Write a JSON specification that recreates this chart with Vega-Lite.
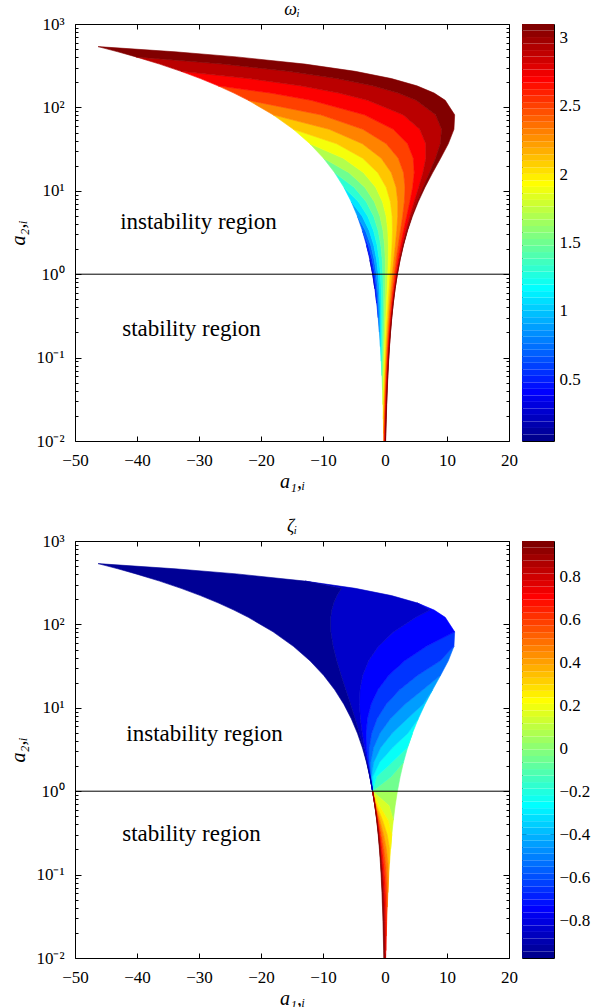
{
"$schema":"https://vega.github.io/schema/vega-lite/v6.json",
"background":"white",
"padding":{"left":8,"top":0,"right":0,"bottom":0},
"config":{
 "view":{"stroke":"black","strokeWidth":1},
 "font":"Liberation Serif",
 "axis":{"domain":false,"grid":false,"labelFont":"Liberation Serif","labelFontSize":17,"labelColor":"black","tickColor":"black","tickWidth":1,"titleFont":"Liberation Serif","titleFontSize":20,"titleFontWeight":"normal","titleFontStyle":"italic","titleColor":"black","labelFlush":false,"labelOverlap":false,"labelBound":false},
 "title":{"font":"Liberation Serif","fontSize":18,"fontStyle":"italic","fontWeight":"normal","color":"black","offset":-4}
},
"datasets":{
"W":[
{"v":0.1,"a2":0.67032,"lo":-1.637,"hi":-1.637},{"v":0.1,"a2":1,"lo":-2,"hi":-1.960},{"v":0.1,"a2":1.49182,"lo":-2.443,"hi":-2.443},
{"v":0.3,"a2":0.449329,"lo":-1.341,"hi":-1.341},{"v":0.3,"a2":0.67032,"lo":-1.637,"hi":-1.540},{"v":0.3,"a2":1,"lo":-1.960,"hi":-1.842},{"v":0.3,"a2":1.49182,"lo":-2.443,"hi":-2.298},{"v":0.3,"a2":2.22554,"lo":-2.984,"hi":-2.984},
{"v":0.5,"a2":0.301194,"lo":-1.098,"hi":-1.098},{"v":0.5,"a2":0.449329,"lo":-1.341,"hi":-1.209},{"v":0.5,"a2":0.67032,"lo":-1.540,"hi":-1.382},{"v":0.5,"a2":1,"lo":-1.842,"hi":-1.651},{"v":0.5,"a2":1.49182,"lo":-2.298,"hi":-2.062},{"v":0.5,"a2":2.22554,"lo":-2.984,"hi":-2.690},{"v":0.5,"a2":3.32012,"lo":-3.644,"hi":-3.644},
{"v":0.7,"a2":0.201897,"lo":-0.899,"hi":-0.899},{"v":0.7,"a2":0.301194,"lo":-1.098,"hi":-0.948},{"v":0.7,"a2":0.449329,"lo":-1.209,"hi":-1.032},{"v":0.7,"a2":0.67032,"lo":-1.382,"hi":-1.170},{"v":0.7,"a2":1,"lo":-1.651,"hi":-1.393},{"v":0.7,"a2":1.49182,"lo":-2.062,"hi":-1.746},{"v":0.7,"a2":2.22554,"lo":-2.690,"hi":-2.296},{"v":0.7,"a2":3.32012,"lo":-3.644,"hi":-3.146},{"v":0.7,"a2":4.95303,"lo":-4.451,"hi":-4.451},
{"v":0.9,"a2":0.135335,"lo":-0.736,"hi":-0.736},{"v":0.9,"a2":0.201897,"lo":-0.899,"hi":-0.742},{"v":0.9,"a2":0.301194,"lo":-0.948,"hi":-0.765},{"v":0.9,"a2":0.449329,"lo":-1.032,"hi":-0.816},{"v":0.9,"a2":0.67032,"lo":-1.170,"hi":-0.912},{"v":0.9,"a2":1,"lo":-1.393,"hi":-1.081},{"v":0.9,"a2":1.49182,"lo":-1.746,"hi":-1.361},{"v":0.9,"a2":2.22554,"lo":-2.296,"hi":-1.816},{"v":0.9,"a2":3.32012,"lo":-3.146,"hi":-2.539},{"v":0.9,"a2":4.95303,"lo":-4.451,"hi":-3.674},{"v":0.9,"a2":7.38906,"lo":-5.437,"hi":-5.437},
{"v":1.1,"a2":0.090718,"lo":-0.602,"hi":-0.602},{"v":1.1,"a2":0.135335,"lo":-0.736,"hi":-0.580},{"v":1.1,"a2":0.201897,"lo":-0.742,"hi":-0.563},{"v":1.1,"a2":0.301194,"lo":-0.765,"hi":-0.556},{"v":1.1,"a2":0.449329,"lo":-0.816,"hi":-0.570},{"v":1.1,"a2":0.67032,"lo":-0.912,"hi":-0.619},{"v":1.1,"a2":1,"lo":-1.081,"hi":-0.725},{"v":1.1,"a2":1.49182,"lo":-1.361,"hi":-0.923},{"v":1.1,"a2":2.22554,"lo":-1.816,"hi":-1.269},{"v":1.1,"a2":3.32012,"lo":-2.539,"hi":-1.847},{"v":1.1,"a2":4.95303,"lo":-3.674,"hi":-2.786},{"v":1.1,"a2":7.38906,"lo":-5.437,"hi":-4.284},{"v":1.1,"a2":11.0232,"lo":-6.640,"hi":-6.640},
{"v":1.3,"a2":0.06081,"lo":-0.493,"hi":-0.493},{"v":1.3,"a2":0.090718,"lo":-0.602,"hi":-0.452},{"v":1.3,"a2":0.135335,"lo":-0.580,"hi":-0.410},{"v":1.3,"a2":0.201897,"lo":-0.563,"hi":-0.368},{"v":1.3,"a2":0.301194,"lo":-0.556,"hi":-0.331},{"v":1.3,"a2":0.449329,"lo":-0.570,"hi":-0.305},{"v":1.3,"a2":0.67032,"lo":-0.619,"hi":-0.301},{"v":1.3,"a2":1,"lo":-0.725,"hi":-0.340},{"v":1.3,"a2":1.49182,"lo":-0.923,"hi":-0.450},{"v":1.3,"a2":2.22554,"lo":-1.269,"hi":-0.678},{"v":1.3,"a2":3.32012,"lo":-1.847,"hi":-1.097},{"v":1.3,"a2":4.95303,"lo":-2.786,"hi":-1.823},{"v":1.3,"a2":7.38906,"lo":-4.284,"hi":-3.029},{"v":1.3,"a2":11.0232,"lo":-6.640,"hi":-4.987},{"v":1.3,"a2":16.4446,"lo":-8.110,"hi":-8.110},
{"v":1.5,"a2":0.040762,"lo":-0.404,"hi":-0.404},{"v":1.5,"a2":0.06081,"lo":-0.493,"hi":-0.352},{"v":1.5,"a2":0.090718,"lo":-0.452,"hi":-0.295},{"v":1.5,"a2":0.135335,"lo":-0.410,"hi":-0.233},{"v":1.5,"a2":0.201897,"lo":-0.368,"hi":-0.165},{"v":1.5,"a2":0.301194,"lo":-0.331,"hi":-0.096},{"v":1.5,"a2":0.449329,"lo":-0.305,"hi":-0.029},{"v":1.5,"a2":0.67032,"lo":-0.301,"hi":0.027},{"v":1.5,"a2":1,"lo":-0.340,"hi":0.058},{"v":1.5,"a2":1.49182,"lo":-0.450,"hi":0.041},{"v":1.5,"a2":2.22554,"lo":-0.678,"hi":-0.064},{"v":1.5,"a2":3.32012,"lo":-1.097,"hi":-0.319},{"v":1.5,"a2":4.95303,"lo":-1.823,"hi":-0.819},{"v":1.5,"a2":7.38906,"lo":-3.029,"hi":-1.719},{"v":1.5,"a2":11.0232,"lo":-4.987,"hi":-3.256},{"v":1.5,"a2":16.4446,"lo":-8.110,"hi":-5.797},{"v":1.5,"a2":24.5325,"lo":-9.906,"hi":-9.906},
{"v":1.7,"a2":0.027324,"lo":-0.331,"hi":-0.331},{"v":1.7,"a2":0.040762,"lo":-0.404,"hi":-0.274},{"v":1.7,"a2":0.06081,"lo":-0.352,"hi":-0.210},{"v":1.7,"a2":0.090718,"lo":-0.295,"hi":-0.137},{"v":1.7,"a2":0.135335,"lo":-0.233,"hi":-0.054},{"v":1.7,"a2":0.201897,"lo":-0.165,"hi":0.037},{"v":1.7,"a2":0.301194,"lo":-0.096,"hi":0.138},{"v":1.7,"a2":0.449329,"lo":-0.029,"hi":0.246},{"v":1.7,"a2":0.67032,"lo":0.027,"hi":0.354},{"v":1.7,"a2":1,"lo":0.058,"hi":0.454},{"v":1.7,"a2":1.49182,"lo":0.041,"hi":0.528},{"v":1.7,"a2":2.22554,"lo":-0.064,"hi":0.546},{"v":1.7,"a2":3.32012,"lo":-0.319,"hi":0.459},{"v":1.7,"a2":4.95303,"lo":-0.819,"hi":0.185},{"v":1.7,"a2":7.38906,"lo":-1.719,"hi":-0.403},{"v":1.7,"a2":11.0232,"lo":-3.256,"hi":-1.508},{"v":1.7,"a2":16.4446,"lo":-5.797,"hi":-3.450},{"v":1.7,"a2":24.5325,"lo":-9.906,"hi":-6.725},{"v":1.7,"a2":36.5982,"lo":-12.099,"hi":-12.099},
{"v":1.9,"a2":0.018316,"lo":-0.271,"hi":-0.271},{"v":1.9,"a2":0.027324,"lo":-0.331,"hi":-0.213},{"v":1.9,"a2":0.040762,"lo":-0.274,"hi":-0.146},{"v":1.9,"a2":0.06081,"lo":-0.210,"hi":-0.070},{"v":1.9,"a2":0.090718,"lo":-0.137,"hi":0.018},{"v":1.9,"a2":0.135335,"lo":-0.054,"hi":0.118},{"v":1.9,"a2":0.201897,"lo":0.037,"hi":0.233},{"v":1.9,"a2":0.301194,"lo":0.138,"hi":0.363},{"v":1.9,"a2":0.449329,"lo":0.246,"hi":0.508},{"v":1.9,"a2":0.67032,"lo":0.354,"hi":0.666},{"v":1.9,"a2":1,"lo":0.454,"hi":0.832},{"v":1.9,"a2":1.49182,"lo":0.528,"hi":0.994},{"v":1.9,"a2":2.22554,"lo":0.546,"hi":1.131},{"v":1.9,"a2":3.32012,"lo":0.459,"hi":1.205},{"v":1.9,"a2":4.95303,"lo":0.185,"hi":1.154},{"v":1.9,"a2":7.38906,"lo":-0.403,"hi":0.873},{"v":1.9,"a2":11.0232,"lo":-1.508,"hi":0.194},{"v":1.9,"a2":16.4446,"lo":-3.450,"hi":-1.152},{"v":1.9,"a2":24.5325,"lo":-6.725,"hi":-3.590},{"v":1.9,"a2":36.5982,"lo":-12.099,"hi":-7.786},{"v":1.9,"a2":54.5982,"lo":-14.778,"hi":-14.778},
{"v":2.1,"a2":0.012277,"lo":-0.222,"hi":-0.222},{"v":2.1,"a2":0.018316,"lo":-0.271,"hi":-0.165},{"v":2.1,"a2":0.027324,"lo":-0.213,"hi":-0.100},{"v":2.1,"a2":0.040762,"lo":-0.146,"hi":-0.025},{"v":2.1,"a2":0.06081,"lo":-0.070,"hi":0.062},{"v":2.1,"a2":0.090718,"lo":0.018,"hi":0.162},{"v":2.1,"a2":0.135335,"lo":0.118,"hi":0.279},{"v":2.1,"a2":0.201897,"lo":0.233,"hi":0.414},{"v":2.1,"a2":0.301194,"lo":0.363,"hi":0.570},{"v":2.1,"a2":0.449329,"lo":0.508,"hi":0.749},{"v":2.1,"a2":0.67032,"lo":0.666,"hi":0.952},{"v":2.1,"a2":1,"lo":0.832,"hi":1.177},{"v":2.1,"a2":1.49182,"lo":0.994,"hi":1.420},{"v":2.1,"a2":2.22554,"lo":1.131,"hi":1.666},{"v":2.1,"a2":3.32012,"lo":1.205,"hi":1.892},{"v":2.1,"a2":4.95303,"lo":1.154,"hi":2.050},{"v":2.1,"a2":7.38906,"lo":0.873,"hi":2.061},{"v":2.1,"a2":11.0232,"lo":0.194,"hi":1.791},{"v":2.1,"a2":16.4446,"lo":-1.152,"hi":1.021},{"v":2.1,"a2":24.5325,"lo":-3.590,"hi":-0.602},{"v":2.1,"a2":36.5982,"lo":-7.786,"hi":-3.644},{"v":2.1,"a2":54.5982,"lo":-14.778,"hi":-8.994},{"v":2.1,"a2":81.4509,"lo":-18.050,"hi":-18.050},
{"v":2.3,"a2":0.00823,"lo":-0.181,"hi":-0.181},{"v":2.3,"a2":0.012277,"lo":-0.222,"hi":-0.127},{"v":2.3,"a2":0.018316,"lo":-0.165,"hi":-0.065},{"v":2.3,"a2":0.027324,"lo":-0.100,"hi":0.006},{"v":2.3,"a2":0.040762,"lo":-0.025,"hi":0.087},{"v":2.3,"a2":0.06081,"lo":0.062,"hi":0.182},{"v":2.3,"a2":0.090718,"lo":0.162,"hi":0.293},{"v":2.3,"a2":0.135335,"lo":0.279,"hi":0.422},{"v":2.3,"a2":0.201897,"lo":0.414,"hi":0.573},{"v":2.3,"a2":0.301194,"lo":0.570,"hi":0.751},{"v":2.3,"a2":0.449329,"lo":0.749,"hi":0.958},{"v":2.3,"a2":0.67032,"lo":0.952,"hi":1.198},{"v":2.3,"a2":1,"lo":1.177,"hi":1.475},{"v":2.3,"a2":1.49182,"lo":1.420,"hi":1.787},{"v":2.3,"a2":2.22554,"lo":1.666,"hi":2.131},{"v":2.3,"a2":3.32012,"lo":1.892,"hi":2.492},{"v":2.3,"a2":4.95303,"lo":2.050,"hi":2.840},{"v":2.3,"a2":7.38906,"lo":2.061,"hi":3.119},{"v":2.3,"a2":11.0232,"lo":1.791,"hi":3.228},{"v":2.3,"a2":16.4446,"lo":1.021,"hi":2.998},{"v":2.3,"a2":24.5325,"lo":-0.602,"hi":2.143},{"v":2.3,"a2":36.5982,"lo":-3.644,"hi":0.202},{"v":2.3,"a2":54.5982,"lo":-8.994,"hi":-3.572},{"v":2.3,"a2":81.4509,"lo":-18.050,"hi":-10.364},{"v":2.3,"a2":121.51,"lo":-22.046,"hi":-22.046},
{"v":2.5,"a2":0.00823,"lo":-0.181,"hi":-0.098},{"v":2.5,"a2":0.012277,"lo":-0.127,"hi":-0.041},{"v":2.5,"a2":0.018316,"lo":-0.065,"hi":0.024},{"v":2.5,"a2":0.027324,"lo":0.006,"hi":0.099},{"v":2.5,"a2":0.040762,"lo":0.087,"hi":0.186},{"v":2.5,"a2":0.06081,"lo":0.182,"hi":0.287},{"v":2.5,"a2":0.090718,"lo":0.293,"hi":0.404},{"v":2.5,"a2":0.135335,"lo":0.422,"hi":0.543},{"v":2.5,"a2":0.201897,"lo":0.573,"hi":0.706},{"v":2.5,"a2":0.301194,"lo":0.751,"hi":0.899},{"v":2.5,"a2":0.449329,"lo":0.958,"hi":1.127},{"v":2.5,"a2":0.67032,"lo":1.198,"hi":1.397},{"v":2.5,"a2":1,"lo":1.475,"hi":1.714},{"v":2.5,"a2":1.49182,"lo":1.787,"hi":2.083},{"v":2.5,"a2":2.22554,"lo":2.131,"hi":2.508},{"v":2.5,"a2":3.32012,"lo":2.492,"hi":2.983},{"v":2.5,"a2":4.95303,"lo":2.840,"hi":3.495},{"v":2.5,"a2":7.38906,"lo":3.119,"hi":4.009},{"v":2.5,"a2":11.0232,"lo":3.228,"hi":4.456},{"v":2.5,"a2":16.4446,"lo":2.998,"hi":4.713},{"v":2.5,"a2":24.5325,"lo":2.143,"hi":4.562},{"v":2.5,"a2":36.5982,"lo":0.202,"hi":3.638},{"v":2.5,"a2":54.5982,"lo":-3.572,"hi":1.336},{"v":2.5,"a2":81.4509,"lo":-10.364,"hi":-3.323},{"v":2.5,"a2":121.51,"lo":-22.046,"hi":-11.912},{"v":2.5,"a2":148.413,"lo":-24.365,"hi":-18.411},{"v":2.5,"a2":181.272,"lo":-26.927,"hi":-26.927},
{"v":2.7,"a2":0.00823,"lo":-0.098,"hi":-0.023},{"v":2.7,"a2":0.012277,"lo":-0.041,"hi":0.036},{"v":2.7,"a2":0.018316,"lo":0.024,"hi":0.103},{"v":2.7,"a2":0.027324,"lo":0.099,"hi":0.180},{"v":2.7,"a2":0.040762,"lo":0.186,"hi":0.268},{"v":2.7,"a2":0.06081,"lo":0.287,"hi":0.372},{"v":2.7,"a2":0.090718,"lo":0.404,"hi":0.493},{"v":2.7,"a2":0.135335,"lo":0.543,"hi":0.636},{"v":2.7,"a2":0.201897,"lo":0.706,"hi":0.806},{"v":2.7,"a2":0.301194,"lo":0.899,"hi":1.008},{"v":2.7,"a2":0.449329,"lo":1.127,"hi":1.250},{"v":2.7,"a2":0.67032,"lo":1.397,"hi":1.539},{"v":2.7,"a2":1,"lo":1.714,"hi":1.884},{"v":2.7,"a2":1.49182,"lo":2.083,"hi":2.296},{"v":2.7,"a2":2.22554,"lo":2.508,"hi":2.781},{"v":2.7,"a2":3.32012,"lo":2.983,"hi":3.347},{"v":2.7,"a2":4.95303,"lo":3.495,"hi":3.992},{"v":2.7,"a2":7.38906,"lo":4.009,"hi":4.701},{"v":2.7,"a2":11.0232,"lo":4.456,"hi":5.436},{"v":2.7,"a2":16.4446,"lo":4.713,"hi":6.115},{"v":2.7,"a2":24.5325,"lo":4.562,"hi":6.584},{"v":2.7,"a2":36.5982,"lo":3.638,"hi":6.570},{"v":2.7,"a2":54.5982,"lo":1.336,"hi":5.602},{"v":2.7,"a2":81.4509,"lo":-3.323,"hi":2.898},{"v":2.7,"a2":121.51,"lo":-11.912,"hi":-2.827},{"v":2.7,"a2":148.413,"lo":-18.411,"hi":-7.429},{"v":2.7,"a2":181.272,"lo":-26.927,"hi":-13.649},{"v":2.7,"a2":221.406,"lo":-29.759,"hi":-21.944},{"v":2.7,"a2":270.426,"lo":-32.889,"hi":-32.889},
{"v":2.9,"a2":0.00823,"lo":-0.023,"hi":0.041},{"v":2.9,"a2":0.012277,"lo":0.036,"hi":0.100},{"v":2.9,"a2":0.018316,"lo":0.103,"hi":0.167},{"v":2.9,"a2":0.027324,"lo":0.180,"hi":0.244},{"v":2.9,"a2":0.040762,"lo":0.268,"hi":0.332},{"v":2.9,"a2":0.06081,"lo":0.372,"hi":0.436},{"v":2.9,"a2":0.090718,"lo":0.493,"hi":0.557},{"v":2.9,"a2":0.135335,"lo":0.636,"hi":0.700},{"v":2.9,"a2":0.201897,"lo":0.806,"hi":0.871},{"v":2.9,"a2":0.301194,"lo":1.008,"hi":1.075},{"v":2.9,"a2":0.449329,"lo":1.250,"hi":1.322},{"v":2.9,"a2":0.67032,"lo":1.539,"hi":1.620},{"v":2.9,"a2":1,"lo":1.884,"hi":1.980},{"v":2.9,"a2":1.49182,"lo":2.296,"hi":2.416},{"v":2.9,"a2":2.22554,"lo":2.781,"hi":2.941},{"v":2.9,"a2":3.32012,"lo":3.347,"hi":3.570},{"v":2.9,"a2":4.95303,"lo":3.992,"hi":4.312},{"v":2.9,"a2":7.38906,"lo":4.701,"hi":5.172},{"v":2.9,"a2":11.0232,"lo":5.436,"hi":6.136},{"v":2.9,"a2":16.4446,"lo":6.115,"hi":7.163},{"v":2.9,"a2":24.5325,"lo":6.584,"hi":8.154},{"v":2.9,"a2":36.5982,"lo":6.570,"hi":8.922},{"v":2.9,"a2":54.5982,"lo":5.602,"hi":9.122},{"v":2.9,"a2":81.4509,"lo":2.898,"hi":8.156},{"v":2.9,"a2":121.51,"lo":-2.827,"hi":5.009},{"v":2.9,"a2":148.413,"lo":-7.429,"hi":2.130},{"v":2.9,"a2":181.272,"lo":-13.649,"hi":-1.994},{"v":2.9,"a2":221.406,"lo":-21.944,"hi":-7.740},{"v":2.9,"a2":270.426,"lo":-32.889,"hi":-15.588},{"v":2.9,"a2":330.3,"lo":-36.348,"hi":-26.142},{"v":2.9,"a2":403.429,"lo":-40.171,"hi":-40.171},
{"v":3.07,"a2":0.00823,"lo":0.041,"hi":0.080},{"v":3.07,"a2":0.012277,"lo":0.100,"hi":0.138},{"v":3.07,"a2":0.018316,"lo":0.167,"hi":0.204},{"v":3.07,"a2":0.027324,"lo":0.244,"hi":0.279},{"v":3.07,"a2":0.040762,"lo":0.332,"hi":0.366},{"v":3.07,"a2":0.06081,"lo":0.436,"hi":0.467},{"v":3.07,"a2":0.090718,"lo":0.557,"hi":0.585},{"v":3.07,"a2":0.135335,"lo":0.700,"hi":0.726},{"v":3.07,"a2":0.201897,"lo":0.871,"hi":0.894},{"v":3.07,"a2":0.301194,"lo":1.075,"hi":1.096},{"v":3.07,"a2":0.449329,"lo":1.322,"hi":1.340},{"v":3.07,"a2":0.67032,"lo":1.620,"hi":1.637},{"v":3.07,"a2":1,"lo":1.980,"hi":2.0},{"v":3.07,"a2":1.49182,"lo":2.416,"hi":2.443},{"v":3.07,"a2":2.22554,"lo":2.941,"hi":2.983},{"v":3.07,"a2":3.32012,"lo":3.570,"hi":3.638},{"v":3.07,"a2":4.95303,"lo":4.312,"hi":4.427},{"v":3.07,"a2":7.38906,"lo":5.172,"hi":5.364},{"v":3.07,"a2":11.0232,"lo":6.136,"hi":6.453},{"v":3.07,"a2":16.4446,"lo":7.163,"hi":7.675},{"v":3.07,"a2":24.5325,"lo":8.154,"hi":8.971},{"v":3.07,"a2":36.5982,"lo":8.922,"hi":10.207},{"v":3.07,"a2":54.5982,"lo":9.122,"hi":11.121},{"v":3.07,"a2":81.4509,"lo":8.156,"hi":11.235},{"v":3.07,"a2":121.51,"lo":5.009,"hi":9.717},{"v":3.07,"a2":148.413,"lo":2.130,"hi":7.935},{"v":3.07,"a2":181.272,"lo":-1.994,"hi":5.154},{"v":3.07,"a2":221.406,"lo":-7.740,"hi":1.051},{"v":3.07,"a2":270.426,"lo":-15.588,"hi":-4.790},{"v":3.07,"a2":330.3,"lo":-26.142,"hi":-12.895},{"v":3.07,"a2":403.429,"lo":-40.171,"hi":-23.934},{"v":3.07,"a2":464.05,"lo":-43.084,"hi":-33.854},{"v":3.07,"a2":535.49,"lo":-46.281,"hi":-46.281}
],
"Z":[
{"v":-0.05,"a2":1,"lo":-2,"hi":2},{"v":-0.05,"a2":1.49182,"lo":0.9942,"hi":2.443},{"v":-0.05,"a2":2.22554,"lo":2.9827,"hi":2.9827},
{"v":-0.15,"a2":1,"lo":-2,"hi":-2},{"v":-0.15,"a2":1.49182,"lo":-1.3611,"hi":0.9942},{"v":-0.15,"a2":2.22554,"lo":1.131,"hi":2.9827},{"v":-0.15,"a2":3.32012,"lo":3.57,"hi":3.6382},{"v":-0.15,"a2":4.95303,"lo":4.4272,"hi":4.4272},
{"v":-0.25,"a2":1,"lo":-2,"hi":-2},{"v":-0.25,"a2":1.49182,"lo":-1.9652,"hi":-1.3611},{"v":-0.25,"a2":2.22554,"lo":-0.8785,"hi":1.131},{"v":-0.25,"a2":3.32012,"lo":1.2053,"hi":3.57},{"v":-0.25,"a2":4.95303,"lo":3.6793,"hi":4.4272},{"v":-0.25,"a2":7.38906,"lo":5.3641,"hi":5.3641},
{"v":-0.35,"a2":1,"lo":-2,"hi":-2},{"v":-0.35,"a2":1.49182,"lo":-2.1908,"hi":-1.9652},{"v":-0.35,"a2":2.22554,"lo":-1.8158,"hi":-0.8785},{"v":-0.35,"a2":3.32012,"lo":-0.7098,"hi":1.2053},{"v":-0.35,"a2":4.95303,"lo":1.1539,"hi":3.6793},{"v":-0.35,"a2":7.38906,"lo":3.5868,"hi":5.3641},{"v":-0.35,"a2":11.0232,"lo":6.1364,"hi":6.4527},{"v":-0.35,"a2":16.4446,"lo":7.6749,"hi":7.6749},
{"v":-0.45,"a2":1,"lo":-2,"hi":-2},{"v":-0.45,"a2":1.49182,"lo":-2.2979,"hi":-2.1908},{"v":-0.45,"a2":2.22554,"lo":-2.2958,"hi":-1.8158},{"v":-0.45,"a2":3.32012,"lo":-1.8472,"hi":-0.7098},{"v":-0.45,"a2":4.95303,"lo":-0.8194,"hi":1.1539},{"v":-0.45,"a2":7.38906,"lo":0.8729,"hi":3.5868},{"v":-0.45,"a2":11.0232,"lo":3.2281,"hi":6.1364},{"v":-0.45,"a2":16.4446,"lo":6.1149,"hi":7.6749},{"v":-0.45,"a2":24.5325,"lo":8.9711,"hi":8.9711},
{"v":-0.55,"a2":1,"lo":-2,"hi":-2},{"v":-0.55,"a2":1.49182,"lo":-2.3564,"hi":-2.2979},{"v":-0.55,"a2":2.22554,"lo":-2.5693,"hi":-2.2958},{"v":-0.55,"a2":3.32012,"lo":-2.539,"hi":-1.8472},{"v":-0.55,"a2":4.95303,"lo":-2.1501,"hi":-0.8194},{"v":-0.55,"a2":7.38906,"lo":-1.2789,"hi":0.8729},{"v":-0.55,"a2":11.0232,"lo":0.1939,"hi":3.2281},{"v":-0.55,"a2":16.4446,"lo":2.3648,"hi":6.1149},{"v":-0.55,"a2":24.5325,"lo":5.2832,"hi":8.9711},{"v":-0.55,"a2":36.5982,"lo":8.922,"hi":10.2073},{"v":-0.55,"a2":54.5982,"lo":11.1213,"hi":11.1213},
{"v":-0.65,"a2":1,"lo":-2,"hi":-2},{"v":-0.65,"a2":1.49182,"lo":-2.3921,"hi":-2.3564},{"v":-0.65,"a2":2.22554,"lo":-2.7386,"hi":-2.5693},{"v":-0.65,"a2":3.32012,"lo":-2.9826,"hi":-2.539},{"v":-0.65,"a2":4.95303,"lo":-3.0509,"hi":-2.1501},{"v":-0.65,"a2":7.38906,"lo":-2.8444,"hi":-1.2789},{"v":-0.65,"a2":11.0232,"lo":-2.2554,"hi":0.1939},{"v":-0.65,"a2":16.4446,"lo":-1.1519,"hi":2.3648},{"v":-0.65,"a2":24.5325,"lo":0.6091,"hi":5.2832},{"v":-0.65,"a2":36.5982,"lo":3.1756,"hi":8.922},{"v":-0.65,"a2":54.5982,"lo":6.6877,"hi":11.1213},{"v":-0.65,"a2":81.4509,"lo":11.2354,"hi":11.2354},
{"v":-0.75,"a2":1,"lo":-2,"hi":-2},{"v":-0.75,"a2":1.49182,"lo":-2.4154,"hi":-2.3921},{"v":-0.75,"a2":2.22554,"lo":-2.8504,"hi":-2.7386},{"v":-0.75,"a2":3.32012,"lo":-3.2814,"hi":-2.9826},{"v":-0.75,"a2":4.95303,"lo":-3.6736,"hi":-3.0509},{"v":-0.75,"a2":7.38906,"lo":-3.9779,"hi":-2.8444},{"v":-0.75,"a2":11.0232,"lo":-4.1276,"hi":-2.2554},{"v":-0.75,"a2":16.4446,"lo":-4.0355,"hi":-1.1519},{"v":-0.75,"a2":24.5325,"lo":-3.5895,"hi":0.6091},{"v":-0.75,"a2":36.5982,"lo":-2.6498,"hi":3.1756},{"v":-0.75,"a2":54.5982,"lo":-1.0454,"hi":6.6877},{"v":-0.75,"a2":81.4509,"lo":1.4281,"hi":11.2354},{"v":-0.75,"a2":121.51,"lo":5.009,"hi":9.7167},{"v":-0.75,"a2":148.413,"lo":7.298,"hi":7.935},{"v":-0.75,"a2":181.272,"lo":5.1545,"hi":5.1545},
{"v":-0.85,"a2":1,"lo":-2,"hi":-2},{"v":-0.85,"a2":1.49182,"lo":-2.4313,"hi":-2.4154},{"v":-0.85,"a2":2.22554,"lo":-2.9278,"hi":-2.8504},{"v":-0.85,"a2":3.32012,"lo":-3.4915,"hi":-3.2814},{"v":-0.85,"a2":4.95303,"lo":-4.1211,"hi":-3.6736},{"v":-0.85,"a2":7.38906,"lo":-4.8113,"hi":-3.9779},{"v":-0.85,"a2":11.0232,"lo":-5.55,"hi":-4.1276},{"v":-0.85,"a2":16.4446,"lo":-6.3185,"hi":-4.0355},{"v":-0.85,"a2":24.5325,"lo":-7.0777,"hi":-3.5895},{"v":-0.85,"a2":36.5982,"lo":-7.7855,"hi":-2.6498},{"v":-0.85,"a2":54.5982,"lo":-8.3706,"hi":-1.0454},{"v":-0.85,"a2":81.4509,"lo":-8.7373,"hi":1.4281},{"v":-0.85,"a2":121.51,"lo":-8.756,"hi":5.009},{"v":-0.85,"a2":148.413,"lo":-8.583,"hi":7.298},{"v":-0.85,"a2":181.272,"lo":-8.2544,"hi":5.1545},{"v":-0.85,"a2":221.406,"lo":-7.74,"hi":1.051},{"v":-0.85,"a2":270.426,"lo":-7.007,"hi":-4.7898},{"v":-0.85,"a2":330.3,"lo":-12.895,"hi":-12.895},
{"v":-0.95,"a2":1,"lo":-2,"hi":-2},{"v":-0.95,"a2":1.49182,"lo":-2.4428,"hi":-2.4313},{"v":-0.95,"a2":2.22554,"lo":-2.9836,"hi":-2.9278},{"v":-0.95,"a2":3.32012,"lo":-3.6442,"hi":-3.4915},{"v":-0.95,"a2":4.95303,"lo":-4.4511,"hi":-4.1211},{"v":-0.95,"a2":7.38906,"lo":-5.4366,"hi":-4.8113},{"v":-0.95,"a2":11.0232,"lo":-6.6402,"hi":-5.55},{"v":-0.95,"a2":16.4446,"lo":-8.1104,"hi":-6.3185},{"v":-0.95,"a2":24.5325,"lo":-9.9061,"hi":-7.0777},{"v":-0.95,"a2":36.5982,"lo":-12.0993,"hi":-7.7855},{"v":-0.95,"a2":54.5982,"lo":-14.7781,"hi":-8.3706},{"v":-0.95,"a2":81.4509,"lo":-18.05,"hi":-8.7373},{"v":-0.95,"a2":121.51,"lo":-22.0464,"hi":-8.756},{"v":-0.95,"a2":148.413,"lo":-24.365,"hi":-8.583},{"v":-0.95,"a2":181.272,"lo":-26.9274,"hi":-8.2544},{"v":-0.95,"a2":221.406,"lo":-29.759,"hi":-7.74},{"v":-0.95,"a2":270.426,"lo":-32.8892,"hi":-7.007},{"v":-0.95,"a2":330.3,"lo":-36.348,"hi":-12.895},{"v":-0.95,"a2":403.429,"lo":-40.1711,"hi":-23.934},{"v":-0.95,"a2":464.05,"lo":-43.084,"hi":-33.854},{"v":-0.95,"a2":535.49,"lo":-46.281,"hi":-46.281},
{"v":0.05,"a2":1,"lo":-2,"hi":2},{"v":0.05,"a2":0.67032,"lo":0.6665,"hi":1.637},{"v":0.05,"a2":0.449329,"lo":1.34,"hi":1.34},
{"v":0.15,"a2":1,"lo":-2,"hi":-2},{"v":0.15,"a2":0.67032,"lo":-0.9124,"hi":0.6665},{"v":0.15,"a2":0.449329,"lo":0.5082,"hi":1.34},{"v":0.15,"a2":0.301194,"lo":1.0753,"hi":1.096},{"v":0.15,"a2":0.201897,"lo":0.894,"hi":0.894},
{"v":0.25,"a2":1,"lo":-2,"hi":-2},{"v":0.25,"a2":0.67032,"lo":-1.3173,"hi":-0.9124},{"v":0.25,"a2":0.449329,"lo":-0.3947,"hi":0.5082},{"v":0.25,"a2":0.301194,"lo":0.363,"hi":1.0753},{"v":0.25,"a2":0.201897,"lo":0.7428,"hi":0.894},{"v":0.25,"a2":0.135335,"lo":0.726,"hi":0.726},
{"v":0.35,"a2":1,"lo":-2,"hi":-2},{"v":0.35,"a2":0.67032,"lo":-1.4685,"hi":-1.3173},{"v":0.35,"a2":0.449329,"lo":-0.8159,"hi":-0.3947},{"v":0.35,"a2":0.301194,"lo":-0.2138,"hi":0.363},{"v":0.35,"a2":0.201897,"lo":0.233,"hi":0.7428},{"v":0.35,"a2":0.135335,"lo":0.4854,"hi":0.726},{"v":0.35,"a2":0.090718,"lo":0.5567,"hi":0.5854},{"v":0.35,"a2":0.06081,"lo":0.4667,"hi":0.4667},
{"v":0.45,"a2":1,"lo":-2,"hi":-2},{"v":0.45,"a2":0.67032,"lo":-1.5403,"hi":-1.4685},{"v":0.45,"a2":0.449329,"lo":-1.0316,"hi":-0.8159},{"v":0.45,"a2":0.301194,"lo":-0.5564,"hi":-0.2138},{"v":0.45,"a2":0.201897,"lo":-0.1654,"hi":0.233},{"v":0.45,"a2":0.135335,"lo":0.1181,"hi":0.4854},{"v":0.45,"a2":0.090718,"lo":0.2928,"hi":0.5567},{"v":0.45,"a2":0.06081,"lo":0.3718,"hi":0.4667},{"v":0.45,"a2":0.040762,"lo":0.3657,"hi":0.3657},
{"v":0.55,"a2":1,"lo":-2,"hi":-2},{"v":0.55,"a2":0.67032,"lo":-1.5796,"hi":-1.5403},{"v":0.55,"a2":0.449329,"lo":-1.1544,"hi":-1.0316},{"v":0.55,"a2":0.301194,"lo":-0.7647,"hi":-0.5564},{"v":0.55,"a2":0.201897,"lo":-0.4341,"hi":-0.1654},{"v":0.55,"a2":0.135335,"lo":-0.1731,"hi":0.1181},{"v":0.55,"a2":0.090718,"lo":0.0176,"hi":0.2928},{"v":0.55,"a2":0.06081,"lo":0.1438,"hi":0.3718},{"v":0.55,"a2":0.040762,"lo":0.2154,"hi":0.3657},{"v":0.55,"a2":0.027324,"lo":0.2438,"hi":0.2789},{"v":0.55,"a2":0.018316,"lo":0.2037,"hi":0.2037},
{"v":0.65,"a2":1,"lo":-2,"hi":-2},{"v":0.65,"a2":0.67032,"lo":-1.6035,"hi":-1.5796},{"v":0.65,"a2":0.449329,"lo":-1.2306,"hi":-1.1544},{"v":0.65,"a2":0.301194,"lo":-0.8983,"hi":-0.7647},{"v":0.65,"a2":0.201897,"lo":-0.616,"hi":-0.4341},{"v":0.65,"a2":0.135335,"lo":-0.3849,"hi":-0.1731},{"v":0.65,"a2":0.090718,"lo":-0.2046,"hi":0.0176},{"v":0.65,"a2":0.06081,"lo":-0.07,"hi":0.1438},{"v":0.65,"a2":0.040762,"lo":0.0248,"hi":0.2154},{"v":0.65,"a2":0.027324,"lo":0.0868,"hi":0.2438},{"v":0.65,"a2":0.018316,"lo":0.1225,"hi":0.2037},{"v":0.65,"a2":0.012277,"lo":0.1379,"hi":0.1379},
{"v":0.75,"a2":1,"lo":-2,"hi":-2},{"v":0.75,"a2":0.67032,"lo":-1.6191,"hi":-1.6035},{"v":0.75,"a2":0.449329,"lo":-1.2808,"hi":-1.2306},{"v":0.75,"a2":0.301194,"lo":-0.9884,"hi":-0.8983},{"v":0.75,"a2":0.201897,"lo":-0.7417,"hi":-0.616},{"v":0.75,"a2":0.135335,"lo":-0.5384,"hi":-0.3849},{"v":0.75,"a2":0.090718,"lo":-0.3745,"hi":-0.2046},{"v":0.75,"a2":0.06081,"lo":-0.2454,"hi":-0.07},{"v":0.75,"a2":0.040762,"lo":-0.1463,"hi":0.0248},{"v":0.75,"a2":0.027324,"lo":-0.0724,"hi":0.0868},{"v":0.75,"a2":0.018316,"lo":-0.0191,"hi":0.1225},{"v":0.75,"a2":0.012277,"lo":0.0175,"hi":0.1379},{"v":0.75,"a2":0.00823,"lo":0.0412,"hi":0.08},
{"v":0.85,"a2":1,"lo":-2,"hi":-2},{"v":0.85,"a2":0.67032,"lo":-1.6298,"hi":-1.6191},{"v":0.85,"a2":0.449329,"lo":-1.3156,"hi":-1.2808},{"v":0.85,"a2":0.301194,"lo":-1.0516,"hi":-0.9884},{"v":0.85,"a2":0.201897,"lo":-0.832,"hi":-0.7417},{"v":0.85,"a2":0.135335,"lo":-0.6511,"hi":-0.5384},{"v":0.85,"a2":0.090718,"lo":-0.5035,"hi":-0.3745},{"v":0.85,"a2":0.06081,"lo":-0.3842,"hi":-0.2454},{"v":0.85,"a2":0.040762,"lo":-0.2885,"hi":-0.1463},{"v":0.85,"a2":0.027324,"lo":-0.2127,"hi":-0.0724},{"v":0.85,"a2":0.018316,"lo":-0.1533,"hi":-0.0191},{"v":0.85,"a2":0.012277,"lo":-0.1073,"hi":0.0175},{"v":0.85,"a2":0.00823,"lo":-0.0721,"hi":0.0412},
{"v":0.95,"a2":1,"lo":-2,"hi":-2},{"v":0.95,"a2":0.67032,"lo":-1.6375,"hi":-1.6298},{"v":0.95,"a2":0.449329,"lo":-1.3406,"hi":-1.3156},{"v":0.95,"a2":0.301194,"lo":-1.0976,"hi":-1.0516},{"v":0.95,"a2":0.201897,"lo":-0.8987,"hi":-0.832},{"v":0.95,"a2":0.135335,"lo":-0.7358,"hi":-0.6511},{"v":0.95,"a2":0.090718,"lo":-0.6024,"hi":-0.5035},{"v":0.95,"a2":0.06081,"lo":-0.4932,"hi":-0.3842},{"v":0.95,"a2":0.040762,"lo":-0.4038,"hi":-0.2885},{"v":0.95,"a2":0.027324,"lo":-0.3306,"hi":-0.2127},{"v":0.95,"a2":0.018316,"lo":-0.2707,"hi":-0.1533},{"v":0.95,"a2":0.012277,"lo":-0.2216,"hi":-0.1073},{"v":0.95,"a2":0.00823,"lo":-0.1814,"hi":-0.0721}
],
"cb":[{"i":0,"j":1},{"i":1,"j":2},{"i":2,"j":3},{"i":3,"j":4},{"i":4,"j":5},{"i":5,"j":6},{"i":6,"j":7},{"i":7,"j":8},{"i":8,"j":9},{"i":9,"j":10},{"i":10,"j":11},{"i":11,"j":12},{"i":12,"j":13},{"i":13,"j":14},{"i":14,"j":15},{"i":15,"j":16},{"i":16,"j":17},{"i":17,"j":18},{"i":18,"j":19},{"i":19,"j":20},{"i":20,"j":21},{"i":21,"j":22},{"i":22,"j":23},{"i":23,"j":24},{"i":24,"j":25},{"i":25,"j":26},{"i":26,"j":27},{"i":27,"j":28},{"i":28,"j":29},{"i":29,"j":30},{"i":30,"j":31},{"i":31,"j":32},{"i":32,"j":33},{"i":33,"j":34},{"i":34,"j":35},{"i":35,"j":36},{"i":36,"j":37},{"i":37,"j":38},{"i":38,"j":39},{"i":39,"j":40},{"i":40,"j":41},{"i":41,"j":42},{"i":42,"j":43},{"i":43,"j":44},{"i":44,"j":45},{"i":45,"j":46},{"i":46,"j":47},{"i":47,"j":48},{"i":48,"j":49},{"i":49,"j":50},{"i":50,"j":51},{"i":51,"j":52},{"i":52,"j":53},{"i":53,"j":54},{"i":54,"j":55},{"i":55,"j":56},{"i":56,"j":57},{"i":57,"j":58},{"i":58,"j":59},{"i":59,"j":60},{"i":60,"j":61},{"i":61,"j":62},{"i":62,"j":63},{"i":63,"j":64}],
"hl":[{"a2":1}],
"lab":[{"p":"w","x":-30.1,"y":4.23,"t":"instability region"},{"p":"w","x":-31.2,"y":0.22,"t":"stability region"},{"p":"z","x":-29.1,"y":4.85,"t":"instability region"},{"p":"z","x":-31.2,"y":0.307,"t":"stability region"}]
},
"spacing":25,
"resolve":{"scale":{"color":"independent","stroke":"independent"}},
"vconcat":[
{"hconcat":[
 {"width":434,"height":417,"title":{"text":"ωᵢ"},
  "layer":[
   {"data":{"name":"W"},"mark":{"type":"area","orient":"horizontal","clip":true,"strokeWidth":0.6},
    "encoding":{
     "y":{"field":"a2","type":"quantitative","scale":{"type":"log","domain":[0.01,1000],"nice":false},
      "axis":{"orient":"left","values":[0.01,0.02,0.03,0.04,0.05,0.06,0.07,0.08,0.09,0.1,0.2,0.3,0.4,0.5,0.6,0.7,0.8,0.9,1,2,3,4,5,6,7,8,9,10,20,30,40,50,60,70,80,90,100,200,300,400,500,600,700,800,900,1000],
       "labelExpr":"datum.value==1000?'10³':datum.value==100?'10²':datum.value==10?'10¹':datum.value==1?'10⁰':datum.value==0.1?'10⁻¹':datum.value==0.01?'10⁻²':''",
       "tickSize":{"condition":{"test":"datum.value==0.01||datum.value==0.1||datum.value==1||datum.value==10||datum.value==100||datum.value==1000","value":-6},"value":-3},
       "labelPadding":17,"title":"a₂,ᵢ","titlePadding":7}},
     "x":{"field":"lo","type":"quantitative","stack":null,"scale":{"domain":[-50,20],"nice":false,"zero":false},
      "axis":{"orient":"bottom","values":[-50,-40,-30,-20,-10,0,10,20],"tickSize":-5,"labelPadding":16,"title":"a₁,ᵢ","titlePadding":3}},
     "x2":{"field":"hi"},
     "color":{"field":"v","type":"quantitative","scale":{"domain":[0.0728,0.4062,1.1682,1.9302,2.6922,3.0732],"range":["#00008f","#0000ff","#00ffff","#ffff00","#ff0000","#800000"],"interpolate":"rgb","clamp":true},"legend":null},
     "stroke":{"field":"v","type":"quantitative","scale":{"domain":[0.0728,0.4062,1.1682,1.9302,2.6922,3.0732],"range":["#00008f","#0000ff","#00ffff","#ffff00","#ff0000","#800000"],"interpolate":"rgb","clamp":true},"legend":null}
    }},
   {"data":{"name":"hl"},"mark":{"type":"rule","color":"black","strokeWidth":1},"encoding":{"y":{"field":"a2","type":"quantitative","axis":null}}},
   {"data":{"name":"lab"},"transform":[{"filter":"datum.p=='w'"}],"mark":{"type":"text","font":"Liberation Serif","fontSize":23,"align":"center","baseline":"middle","color":"black"},
    "encoding":{
     "x":{"field":"x","type":"quantitative","axis":{"orient":"top","values":[-50,-40,-30,-20,-10,0,10,20],"labels":false,"tickSize":-5,"title":null}},
     "y":{"field":"y","type":"quantitative","axis":{"orient":"right","values":[0.01,0.02,0.03,0.04,0.05,0.06,0.07,0.08,0.09,0.1,0.2,0.3,0.4,0.5,0.6,0.7,0.8,0.9,1,2,3,4,5,6,7,8,9,10,20,30,40,50,60,70,80,90,100,200,300,400,500,600,700,800,900,1000],"labels":false,"tickSize":{"condition":{"test":"datum.value==0.01||datum.value==0.1||datum.value==1||datum.value==10||datum.value==100||datum.value==1000","value":-6},"value":-3},"title":null}},
     "text":{"field":"t"}}}
  ]},
 {"width":32,"height":417,"data":{"name":"cb"},
  "layer":[
   {"mark":{"type":"rect"},"encoding":{
     "y":{"field":"i","type":"quantitative","scale":{"domain":[0,64],"nice":false,"zero":false},
      "axis":{"orient":"right","values":[9.4698,19.9685,30.4672,40.9659,51.4646,61.9633],"labelExpr":"format(round((0.049+datum.value*0.047625)*10)/10+0,'~g')","tickSize":-4,"labelPadding":9,"title":null}},
     "y2":{"field":"j"},
     "x":{"datum":0,"type":"quantitative","scale":{"domain":[0,1],"nice":false,"zero":false},"axis":null},
     "x2":{"datum":1},
     "color":{"field":"i","type":"quantitative","scale":{"domain":[0,7,23,39,55,63],"range":["#00008f","#0000ff","#00ffff","#ffff00","#ff0000","#800000"],"interpolate":"rgb"},"legend":null}}},
   {"mark":{"type":"point","opacity":0},"encoding":{
     "y":{"field":"i","type":"quantitative","axis":{"orient":"left","values":[9.4698,19.9685,30.4672,40.9659,51.4646,61.9633],"labels":false,"tickSize":-4,"title":null}}}}
  ]}
 ],"spacing":13,"bounds":"flush","resolve":{"scale":{"color":"independent","stroke":"independent"}}},
{"hconcat":[
 {"width":434,"height":417,"title":{"text":"ζᵢ"},
  "layer":[
   {"data":{"name":"Z"},"mark":{"type":"area","orient":"horizontal","clip":true,"strokeWidth":0.6},
    "encoding":{
     "y":{"field":"a2","type":"quantitative","scale":{"type":"log","domain":[0.01,1000],"nice":false},
      "axis":{"orient":"left","values":[0.01,0.02,0.03,0.04,0.05,0.06,0.07,0.08,0.09,0.1,0.2,0.3,0.4,0.5,0.6,0.7,0.8,0.9,1,2,3,4,5,6,7,8,9,10,20,30,40,50,60,70,80,90,100,200,300,400,500,600,700,800,900,1000],
       "labelExpr":"datum.value==1000?'10³':datum.value==100?'10²':datum.value==10?'10¹':datum.value==1?'10⁰':datum.value==0.1?'10⁻¹':datum.value==0.01?'10⁻²':''",
       "tickSize":{"condition":{"test":"datum.value==0.01||datum.value==0.1||datum.value==1||datum.value==10||datum.value==100||datum.value==1000","value":-6},"value":-3},
       "labelPadding":17,"title":"a₂,ᵢ","titlePadding":7}},
     "x":{"field":"lo","type":"quantitative","stack":null,"scale":{"domain":[-50,20],"nice":false,"zero":false},
      "axis":{"orient":"bottom","values":[-50,-40,-30,-20,-10,0,10,20],"tickSize":-5,"labelPadding":16,"title":"a₁,ᵢ","titlePadding":3}},
     "x2":{"field":"hi"},
     "color":{"field":"v","type":"quantitative","scale":{"domain":[-0.9618,-0.7493,-0.2635,0.2222,0.7079,0.9508],"range":["#00008f","#0000ff","#00ffff","#ffff00","#ff0000","#800000"],"interpolate":"rgb","clamp":true},"legend":null},
     "stroke":{"field":"v","type":"quantitative","scale":{"domain":[-0.9618,-0.7493,-0.2635,0.2222,0.7079,0.9508],"range":["#00008f","#0000ff","#00ffff","#ffff00","#ff0000","#800000"],"interpolate":"rgb","clamp":true},"legend":null}
    }},
   {"data":{"name":"hl"},"mark":{"type":"rule","color":"black","strokeWidth":1},"encoding":{"y":{"field":"a2","type":"quantitative","axis":null}}},
   {"data":{"name":"lab"},"transform":[{"filter":"datum.p=='z'"}],"mark":{"type":"text","font":"Liberation Serif","fontSize":23,"align":"center","baseline":"middle","color":"black"},
    "encoding":{
     "x":{"field":"x","type":"quantitative","axis":{"orient":"top","values":[-50,-40,-30,-20,-10,0,10,20],"labels":false,"tickSize":-5,"title":null}},
     "y":{"field":"y","type":"quantitative","axis":{"orient":"right","values":[0.01,0.02,0.03,0.04,0.05,0.06,0.07,0.08,0.09,0.1,0.2,0.3,0.4,0.5,0.6,0.7,0.8,0.9,1,2,3,4,5,6,7,8,9,10,20,30,40,50,60,70,80,90,100,200,300,400,500,600,700,800,900,1000],"labels":false,"tickSize":{"condition":{"test":"datum.value==0.01||datum.value==0.1||datum.value==1||datum.value==10||datum.value==100||datum.value==1000","value":-6},"value":-3},"title":null}},
     "text":{"field":"t"}}}
  ]},
 {"width":32,"height":417,"data":{"name":"cb"},
  "layer":[
   {"mark":{"type":"rect"},"encoding":{
     "y":{"field":"i","type":"quantitative","scale":{"domain":[0,64],"nice":false,"zero":false},
      "axis":{"orient":"right","values":[5.8302,12.4179,19.0057,25.5934,32.1812,38.769,45.3567,51.9445,58.5322],"labelExpr":"format(round((-0.977+datum.value*0.03035937)*10)/10+0,'~g')","tickSize":-4,"labelPadding":9,"title":null}},
     "y2":{"field":"j"},
     "x":{"datum":0,"type":"quantitative","scale":{"domain":[0,1],"nice":false,"zero":false},"axis":null},
     "x2":{"datum":1},
     "color":{"field":"i","type":"quantitative","scale":{"domain":[0,7,23,39,55,63],"range":["#00008f","#0000ff","#00ffff","#ffff00","#ff0000","#800000"],"interpolate":"rgb"},"legend":null}}},
   {"mark":{"type":"point","opacity":0},"encoding":{
     "y":{"field":"i","type":"quantitative","axis":{"orient":"left","values":[5.8302,12.4179,19.0057,25.5934,32.1812,38.769,45.3567,51.9445,58.5322],"labels":false,"tickSize":-4,"title":null}}}}
  ]}
 ],"spacing":13,"bounds":"flush","resolve":{"scale":{"color":"independent","stroke":"independent"}}}
]
}
